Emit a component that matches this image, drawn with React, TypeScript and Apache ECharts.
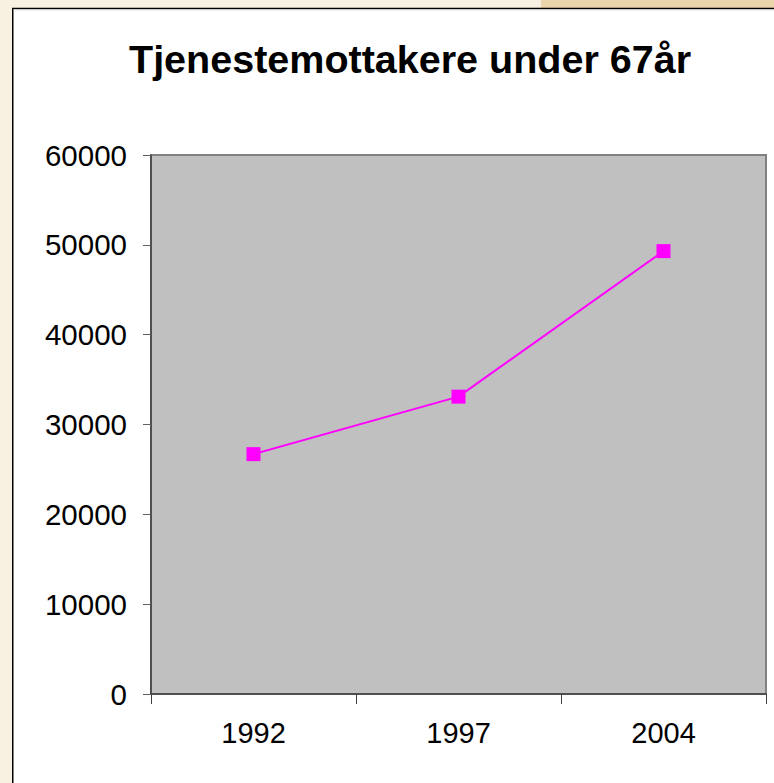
import React, { useEffect, useRef } from "react";
import * as echarts from "echarts";

const titleText = "Tjenestemottakere under 67år";
const years = ["1992", "1997", "2004"];
const recipients = [26700, 33100, 49300];
const yMin = 0;
const yMax = 60000;
const yStep = 10000;

const FONT = '"Liberation Sans", Arial, sans-serif';

export default function App() {
  const ref = useRef<HTMLDivElement>(null);
  useEffect(() => {
    if (!ref.current) return;
    const chart = echarts.init(ref.current, null, { renderer: "svg" });
    chart.setOption({
      animation: false,
      backgroundColor: "#f8f0e1",
      textStyle: { fontFamily: FONT },
      graphic: [
        {
          type: "rect",
          z: -10,
          silent: true,
          shape: { x: 541, y: 0, width: 240, height: 8.5 },
          style: { fill: "#ebd5ac" },
        },
        {
          type: "rect",
          z: -10,
          silent: true,
          shape: { x: 12.75, y: 8.5, width: 820, height: 820 },
          style: { fill: "#ffffff", stroke: "#000000", lineWidth: 1.5 },
        },
        {
          type: "line",
          z: -9,
          silent: true,
          shape: { x1: 13.5, y1: 9.8, x2: 780, y2: 9.8 },
          style: { stroke: "#d0d0d0", lineWidth: 1 },
        },
      ],
      title: {
        text: titleText,
        left: 405,
        top: 34,
        textAlign: "center",
        textStyle: {
          fontFamily: FONT,
          fontSize: 39.5,
          fontWeight: "bold",
          color: "#000000",
        },
      },
      grid: {
        left: 151,
        top: 155,
        width: 615,
        height: 539,
        show: true,
        backgroundColor: "#c0c0c0",
        borderColor: "#808080",
        borderWidth: 2,
        outerBoundsMode: "none",
      },
      xAxis: {
        type: "category",
        data: years,
        boundaryGap: true,
        axisLine: { show: true, lineStyle: { color: "#404040", width: 1.5 } },
        axisTick: {
          show: true,
          interval: 0,
          alignWithLabel: false,
          length: 10,
          lineStyle: { color: "#404040", width: 1 },
        },
        axisLabel: {
          interval: 0,
          margin: 24,
          fontFamily: FONT,
          fontSize: 29,
          color: "#000000",
        },
        splitLine: { show: false },
      },
      yAxis: {
        type: "value",
        min: yMin,
        max: yMax,
        interval: yStep,
        axisLine: { show: true, lineStyle: { color: "#404040", width: 1.5 } },
        axisTick: {
          show: true,
          length: 8,
          lineStyle: { color: "#606060", width: 1 },
        },
        axisLabel: {
          margin: 24,
          fontFamily: FONT,
          fontSize: 29.5,
          color: "#000000",
          formatter: (v: number) => String(v),
        },
        splitLine: { show: false },
      },
      series: [
        {
          type: "line",
          data: recipients,
          symbol: "rect",
          symbolSize: 14,
          itemStyle: { color: "#ff00ff" },
          lineStyle: { color: "#ff00ff", width: 2 },
        },
      ],
    });
    return () => chart.dispose();
  }, []);
  return (
    <div
      ref={ref}
      style={{ position: "fixed", left: 0, top: 0, width: 774, height: 783 }}
    />
  );
}
